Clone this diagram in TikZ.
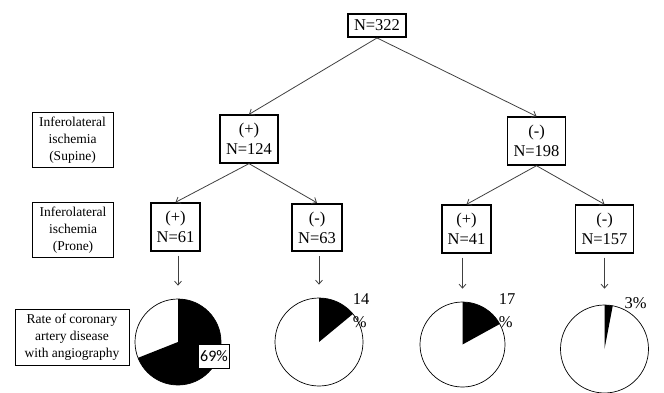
\documentclass[tikz,border=0pt]{standalone}
\usepackage{fontspec}
\setmainfont{Liberation Serif}
\newfontfamily\calibrifont{Carlito}
\usetikzlibrary{arrows.meta, positioning}
\tikzstyle{cohort} = [draw, line width=1.8pt, align=center, inner xsep=6pt, inner ysep=8pt, font=\fontsize{16.5}{20}\selectfont]
\tikzstyle{rowlabel} = [draw, line width=0.8pt, align=center, minimum width=81pt, inner ysep=4.5pt, font=\fontsize{13.5}{17}\selectfont]
\tikzstyle{pie} = [circle, draw, line width=0.7pt, inner sep=0pt]
\tikzstyle{pct} = [align=left, inner sep=0pt, font=\fontsize{16.5}{23}\selectfont]
\tikzstyle{pctbox} = [draw, line width=0.7pt, fill=white, inner xsep=2pt, minimum height=24pt, font=\calibrifont\fontsize{16}{19}\selectfont]
\tikzstyle{branch} = [draw=black!75, line width=0.8pt, ->, >={Straight Barb[length=4pt,width=7pt]}]
\tikzstyle{drop} = [branch, shorten <=4pt, shorten >=13pt]

\begin{document}
\begin{tikzpicture}[node distance=88pt, x=1pt, y=1pt]
      \useasboundingbox (0,0) rectangle (664,-392);
      % tree of cohorts
      \node (root) [cohort, inner ysep=6pt] at (377,-25.5) {N=322};
      \node (sp) [cohort, below of=root, xshift=-128pt, yshift=-25.5pt] {(+)\\N=124};
      \node (sn) [cohort, right of=sp, xshift=199.5pt, yshift=-2pt] {(-)\\N=198};
      \node (pp1) [cohort, below of=sp, xshift=-73.5pt] {(+)\\N=61};
      \node (pn1) [cohort, right of=pp1, xshift=53.5pt, yshift=-0.5pt] {(-)\\N=63};
      \node (pp2) [cohort, below of=sn, xshift=-70pt] {(+)\\N=41};
      \node (pn2) [cohort, right of=pp2, xshift=50pt] {(-)\\N=157};
      % row labels
      \node (lsup) [rowlabel, left of=sp, xshift=-88.5pt, yshift=-1pt] {Inferolateral\\ischemia\\(Supine)};
      \node (lpr) [rowlabel, left of=pp1, xshift=-14.5pt, yshift=-3pt] {Inferolateral\\ischemia\\(Prone)};
      \node (lrate) [rowlabel, below of=lpr, yshift=-19.5pt, xshift=-1pt, minimum width=114pt] {Rate of coronary\\artery disease\\with angiography};
      % pies
      \node (pie1) [pie, minimum size=86pt, below of=pp1, xshift=2.5pt, yshift=-27pt] {};
      \node (pie2) [pie, minimum size=88pt, below of=pn1, xshift=2pt, yshift=-26.5pt] {};
      \node (pie3) [pie, minimum size=85pt, below of=pp2, xshift=-4pt, yshift=-27.5pt] {};
      \node (pie4) [pie, minimum size=88pt, below of=pn2, yshift=-32pt] {};
      \fill (pie1.center) -- ++(90:43pt) arc[start angle=90, delta angle=-248.4, radius=43pt] -- cycle;
      \fill (pie2.center) -- ++(90:44pt) arc[start angle=90, delta angle=-50.4, radius=44pt] -- cycle;
      \fill (pie3.center) -- ++(90:42.5pt) arc[start angle=90, delta angle=-61.2, radius=42.5pt] -- cycle;
      \fill (pie4.center) -- ++(90:44pt) arc[start angle=90, delta angle=-10.8, radius=44pt] -- cycle;
      \node (pct1) [pctbox, right of=pie1, xshift=-52pt, yshift=-14pt] {69\%};
      \node (pct2) [pct, right of=pie2, xshift=-46pt, yshift=31pt] {14\\\%};
      \node (pct3) [pct, right of=pie3, xshift=-43.5pt, yshift=33.5pt] {17\\\%};
      \node (pct4) [pct, right of=pie4, xshift=-57pt, yshift=46pt] {3\%};
      % connectors
      \draw [branch] (root.south) -- (sp.north);
      \draw [branch] (root.south) -- (sn.north);
      \draw [branch] (sp.south) -- (pp1.north);
      \draw [branch] (sp.south) -- (pn1.north);
      \draw [branch] (sn.south) -- (pp2.north);
      \draw [branch] (sn.south) -- (pn2.north);
      \draw [drop] (pp1.south -| pie1) -- (pie1.north);
      \draw [drop] (pn1.south -| pie2) -- (pie2.north);
      \draw [drop] (pp2.south -| pie3) -- (pie3.north);
      \draw [drop, shorten >=16pt] (pn2.south -| pie4) -- (pie4.north);
    \end{tikzpicture}
\end{document}
